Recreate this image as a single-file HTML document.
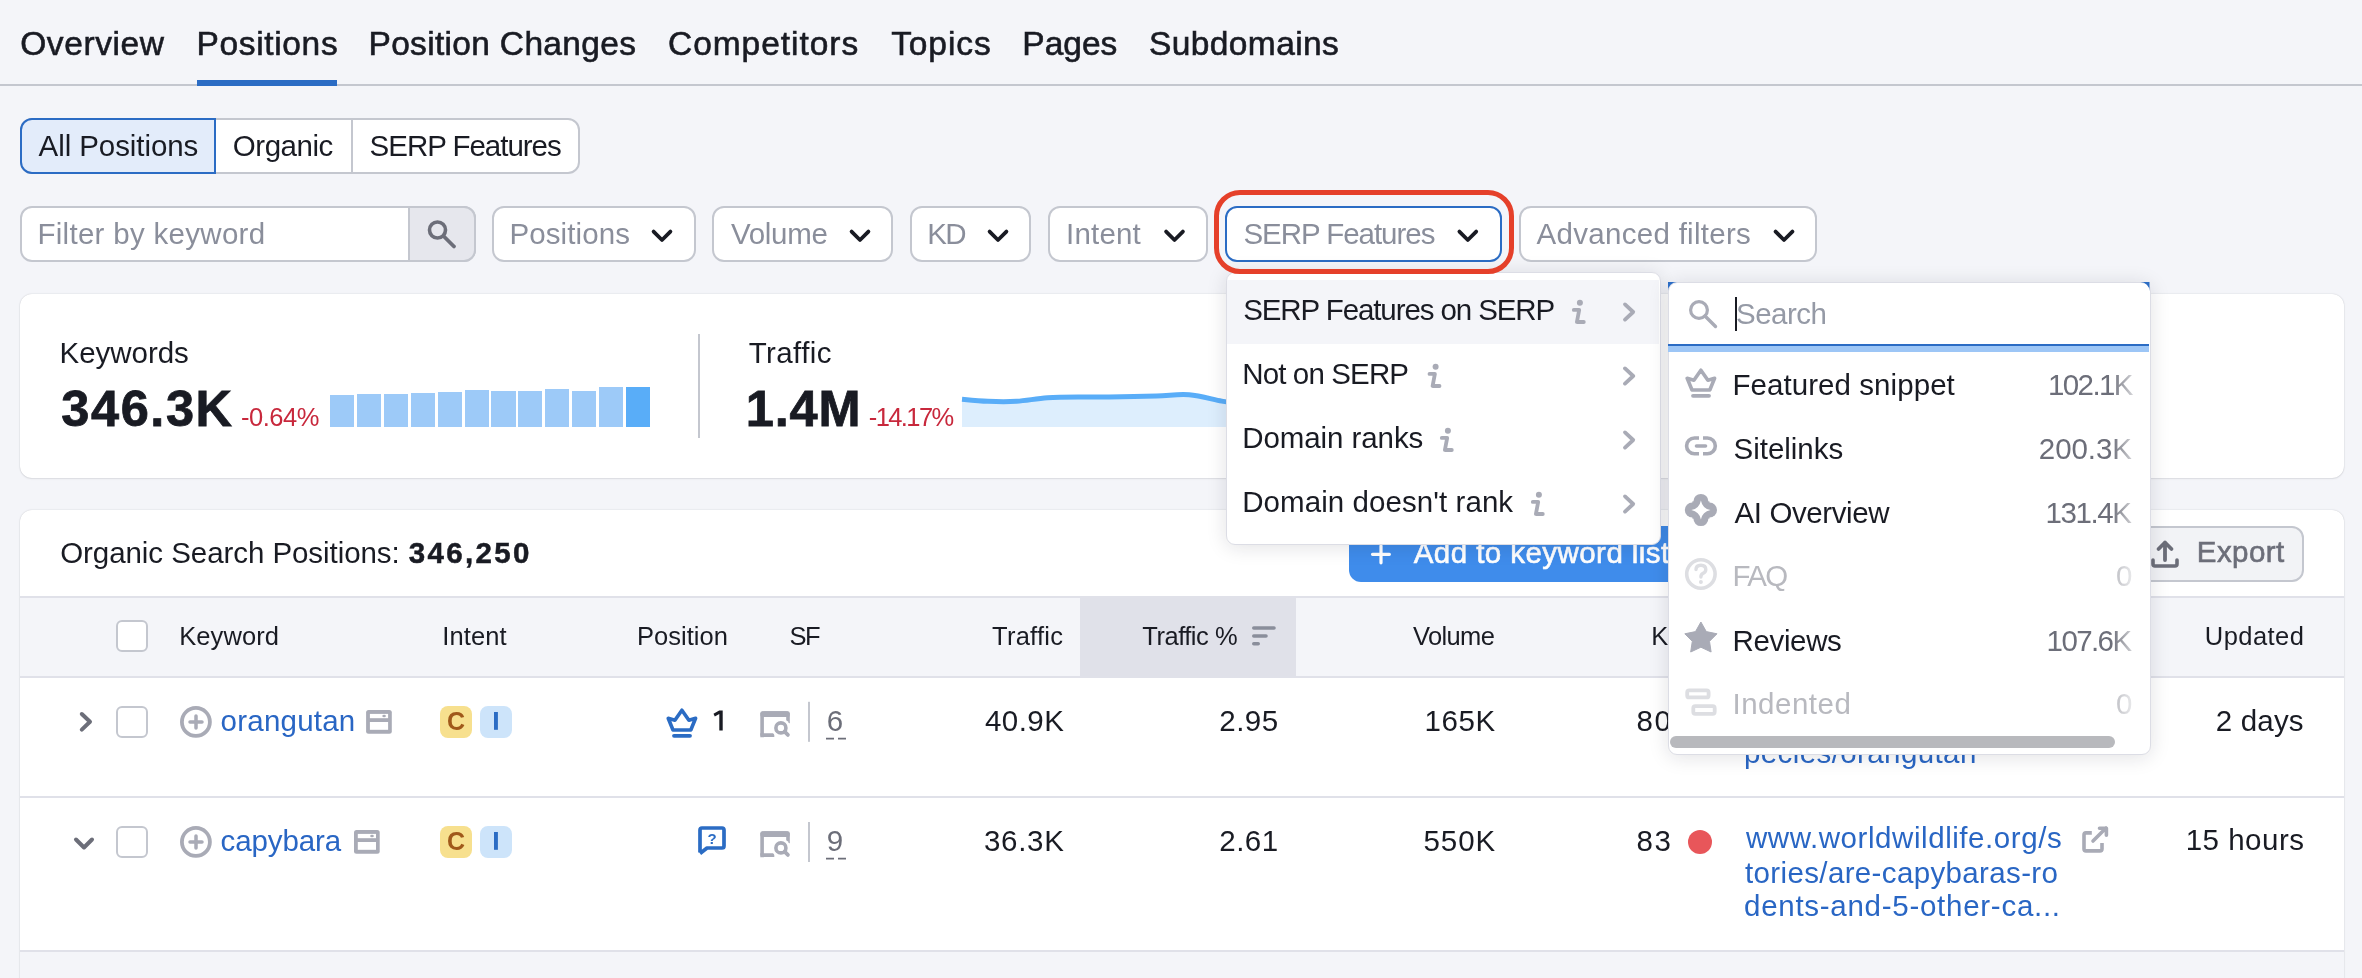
<!DOCTYPE html>
<html><head><meta charset="utf-8"><title>Positions</title>
<style>
html,body{margin:0;padding:0;}
body{width:2362px;height:978px;overflow:hidden;background:#F4F5F9;position:relative;font-family:"Liberation Sans",sans-serif;}
.t{position:absolute;white-space:pre;line-height:1;}
.b{position:absolute;}
.ov{position:absolute;left:0;top:0;}
#base{position:absolute;left:0;top:0;width:2362px;height:978px;z-index:1;will-change:transform;}
#pico{position:absolute;left:0;top:0;z-index:2;}
#dd{position:absolute;left:0;top:0;width:2362px;height:978px;z-index:5;will-change:transform;}
#ring{position:absolute;left:0;top:0;z-index:9;}
</style></head><body>
<div id="base">
<div class="b" style="left:0px;top:84px;width:2362px;height:2px;background:#C4C7CF;"></div>
<div class="b" style="left:197px;top:80px;width:140px;height:6px;background:#2B6CC4;"></div>
<div class="t" style="left:20.20px;top:27.00px;font-size:33.5px;color:#191B23;letter-spacing:0.586px;-webkit-text-stroke:0.6px #191B23;">Overview</div>
<div class="t" style="left:196.50px;top:27.00px;font-size:33.5px;color:#191B23;letter-spacing:0.650px;-webkit-text-stroke:0.6px #191B23;">Positions</div>
<div class="t" style="left:368.50px;top:27.00px;font-size:33.5px;color:#191B23;letter-spacing:0.320px;-webkit-text-stroke:0.6px #191B23;">Position Changes</div>
<div class="t" style="left:668.00px;top:27.00px;font-size:33.5px;color:#191B23;letter-spacing:0.960px;-webkit-text-stroke:0.6px #191B23;">Competitors</div>
<div class="t" style="left:891.20px;top:27.00px;font-size:33.5px;color:#191B23;letter-spacing:0.900px;-webkit-text-stroke:0.6px #191B23;">Topics</div>
<div class="t" style="left:1022.30px;top:27.00px;font-size:33.5px;color:#191B23;-webkit-text-stroke:0.6px #191B23;">Pages</div>
<div class="t" style="left:1148.90px;top:27.00px;font-size:33.5px;color:#191B23;letter-spacing:0.411px;-webkit-text-stroke:0.6px #191B23;">Subdomains</div>
<div class="b" style="left:20px;top:118px;width:560px;height:56px;background:#fff;border:2px solid #C4C7CF;border-radius:12px;box-sizing:border-box;"></div>
<div class="b" style="left:351px;top:120px;width:2px;height:52px;background:#C4C7CF;"></div>
<div class="b" style="left:20px;top:118px;width:196px;height:56px;background:#E3ECFA;border:2px solid #2B6CC4;border-radius:12px 0 0 12px;box-sizing:border-box;"></div>
<div class="t" style="left:38.60px;top:131.00px;font-size:29.5px;color:#191B23;letter-spacing:-0.083px;">All Positions</div>
<div class="t" style="left:232.80px;top:131.00px;font-size:29.5px;color:#191B23;letter-spacing:-0.467px;">Organic</div>
<div class="t" style="left:369.60px;top:131.00px;font-size:29.5px;color:#191B23;letter-spacing:-1.025px;">SERP Features</div>
<div class="b" style="left:20px;top:206px;width:456px;height:56px;background:#fff;border:2px solid #C4C7CF;border-radius:12px;box-sizing:border-box;"></div>
<div class="b" style="left:408px;top:206px;width:68px;height:56px;background:#E6E7ED;border:2px solid #C4C7CF;border-radius:0 12px 12px 0;box-sizing:border-box;"></div>
<div class="t" style="left:37.40px;top:219.00px;font-size:29.5px;color:#8A8E9B;letter-spacing:0.300px;">Filter by keyword</div>
<div class="b" style="left:492px;top:206px;width:204px;height:56px;background:#fff;border:2px solid #C4C7CF;border-radius:12px;box-sizing:border-box;"></div>
<div class="t" style="left:509.50px;top:218.50px;font-size:29.5px;color:#8A8E9B;letter-spacing:0.088px;">Positions</div>
<div class="b" style="left:712px;top:206px;width:181px;height:56px;background:#fff;border:2px solid #C4C7CF;border-radius:12px;box-sizing:border-box;"></div>
<div class="t" style="left:731.00px;top:218.50px;font-size:29.5px;color:#8A8E9B;letter-spacing:-0.300px;">Volume</div>
<div class="b" style="left:910px;top:206px;width:121px;height:56px;background:#fff;border:2px solid #C4C7CF;border-radius:12px;box-sizing:border-box;"></div>
<div class="t" style="left:927.30px;top:218.50px;font-size:29.5px;color:#8A8E9B;letter-spacing:-1.600px;">KD</div>
<div class="b" style="left:1048px;top:206px;width:160px;height:56px;background:#fff;border:2px solid #C4C7CF;border-radius:12px;box-sizing:border-box;"></div>
<div class="t" style="left:1066.00px;top:218.50px;font-size:29.5px;color:#8A8E9B;letter-spacing:0.200px;">Intent</div>
<div class="b" style="left:1225px;top:206px;width:277px;height:56px;background:#fff;border:2px solid #2B6CC4;border-radius:12px;box-sizing:border-box;"></div>
<div class="t" style="left:1243.40px;top:218.50px;font-size:29.5px;color:#8A8E9B;letter-spacing:-1.033px;">SERP Features</div>
<div class="b" style="left:1519px;top:206px;width:298px;height:56px;background:#fff;border:2px solid #C4C7CF;border-radius:12px;box-sizing:border-box;"></div>
<div class="t" style="left:1536.60px;top:218.50px;font-size:29.5px;color:#8A8E9B;letter-spacing:0.293px;">Advanced filters</div>
<div class="b" style="left:20px;top:294px;width:2324px;height:184px;background:#fff;border-radius:12px;box-shadow:0 0 1.5px rgba(25,27,35,0.22),0 1px 2px rgba(25,27,35,0.08);"></div>
<div class="t" style="left:59.50px;top:338.00px;font-size:29.5px;color:#191B23;letter-spacing:-0.029px;">Keywords</div>
<div class="t" style="left:61.30px;top:384.00px;font-size:50.5px;color:#191B23;letter-spacing:1.580px;font-weight:700;-webkit-text-stroke:0.8px #191B23;">346.3K</div>
<div class="t" style="left:240.90px;top:405.00px;font-size:25.5px;color:#C8283C;letter-spacing:-0.440px;">-0.64%</div>
<div class="b" style="left:330.2px;top:395.0px;width:23.7px;height:32.0px;background:#9DCAF8;"></div>
<div class="b" style="left:356.9px;top:393.9px;width:24.1px;height:33.1px;background:#9DCAF8;"></div>
<div class="b" style="left:384.0px;top:394.0px;width:23.7px;height:33.0px;background:#9DCAF8;"></div>
<div class="b" style="left:411.0px;top:392.9px;width:24.0px;height:34.1px;background:#9DCAF8;"></div>
<div class="b" style="left:437.7px;top:391.5px;width:24.0px;height:35.5px;background:#9DCAF8;"></div>
<div class="b" style="left:464.8px;top:390.2px;width:23.9px;height:36.8px;background:#9DCAF8;"></div>
<div class="b" style="left:491.4px;top:391.0px;width:24.2px;height:36.0px;background:#9DCAF8;"></div>
<div class="b" style="left:518.3px;top:390.5px;width:24.1px;height:36.5px;background:#9DCAF8;"></div>
<div class="b" style="left:545.2px;top:388.8px;width:24.0px;height:38.2px;background:#9DCAF8;"></div>
<div class="b" style="left:572.2px;top:390.5px;width:24.0px;height:36.5px;background:#9DCAF8;"></div>
<div class="b" style="left:599.0px;top:387.0px;width:24.0px;height:40.0px;background:#9DCAF8;"></div>
<div class="b" style="left:625.8px;top:387.1px;width:24.0px;height:39.9px;background:#59ADF8;"></div>
<div class="b" style="left:698px;top:334px;width:2px;height:104px;background:#C4C7CF;"></div>
<div class="t" style="left:748.70px;top:338.00px;font-size:29.5px;color:#191B23;letter-spacing:0.417px;">Traffic</div>
<div class="t" style="left:745.70px;top:384.00px;font-size:50.5px;color:#191B23;letter-spacing:0.867px;font-weight:700;-webkit-text-stroke:0.8px #191B23;">1.4M</div>
<div class="t" style="left:868.80px;top:405.00px;font-size:25.5px;color:#C8283C;letter-spacing:-1.600px;">-14.17%</div>
<div class="b" style="left:20px;top:510px;width:2324px;height:490px;background:#fff;border-radius:12px 12px 0 0;box-shadow:0 0 1.5px rgba(25,27,35,0.22),0 1px 2px rgba(25,27,35,0.08);"></div>
<div class="t" style="left:60.20px;top:538.00px;font-size:29.5px;color:#191B23;letter-spacing:-0.062px;">Organic Search Positions:</div>
<div class="t" style="left:408.70px;top:538.00px;font-size:29.5px;color:#191B23;letter-spacing:2.350px;font-weight:700;-webkit-text-stroke:0.5px #191B23;">346,250</div>
<div class="b" style="left:1349px;top:526px;width:351px;height:56px;background:#3F8CEB;border-radius:12px;"></div>
<div class="t" style="left:1413.70px;top:538.00px;font-size:29.5px;color:#fff;letter-spacing:0.444px;-webkit-text-stroke:0.6px #fff;">Add to keyword list</div>
<div class="b" style="left:2120px;top:526px;width:184px;height:56px;background:#F2F3F6;border:2px solid #C4C7CF;border-radius:12px;box-sizing:border-box;"></div>
<div class="t" style="left:2196.80px;top:537.40px;font-size:29.5px;color:#6C6E79;letter-spacing:0.440px;-webkit-text-stroke:0.6px #6C6E79;">Export</div>
<div class="b" style="left:20px;top:596px;width:2324px;height:82px;background:#F4F5F9;border-top:2px solid #E0E1E9;border-bottom:2px solid #E0E1E9;box-sizing:border-box;"></div>
<div class="b" style="left:1080px;top:598px;width:216px;height:78px;background:#E0E1E9;"></div>
<div class="t" style="left:179.20px;top:624.00px;font-size:25.5px;color:#191B23;letter-spacing:0.100px;">Keyword</div>
<div class="t" style="left:442.30px;top:624.00px;font-size:25.5px;color:#191B23;letter-spacing:0.100px;">Intent</div>
<div class="t" style="left:636.90px;top:624.00px;font-size:25.5px;color:#191B23;letter-spacing:0.057px;">Position</div>
<div class="t" style="left:789.50px;top:624.00px;font-size:25.5px;color:#191B23;letter-spacing:-1.600px;">SF</div>
<div class="t" style="left:992.00px;top:624.00px;font-size:25.5px;color:#191B23;letter-spacing:0.267px;">Traffic</div>
<div class="t" style="left:1142.30px;top:624.00px;font-size:25.5px;color:#191B23;letter-spacing:-0.487px;">Traffic %</div>
<div class="t" style="left:1413.00px;top:624.00px;font-size:25.5px;color:#191B23;letter-spacing:-0.640px;">Volume</div>
<div class="t" style="left:1651.20px;top:624.00px;font-size:25.5px;color:#191B23;letter-spacing:3.800px;">KD</div>
<div class="t" style="left:2204.80px;top:624.00px;font-size:25.5px;color:#191B23;letter-spacing:0.450px;">Updated</div>
<div class="b" style="left:20px;top:796px;width:2324px;height:2px;background:#E0E1E9;"></div>
<div class="b" style="left:20px;top:950px;width:2324px;height:2px;background:#E0E1E9;"></div>
<div class="b" style="left:20px;top:952px;width:2324px;height:26px;background:#F4F5F9;"></div>
<div class="t" style="left:220.60px;top:706.00px;font-size:29.5px;color:#2966C4;letter-spacing:0.225px;">orangutan</div>
<div class="t" style="left:220.60px;top:825.50px;font-size:29.5px;color:#2966C4;letter-spacing:-0.129px;">capybara</div>
<div class="t" style="left:826.70px;top:706.00px;font-size:29.5px;color:#6C6E79;">6</div>
<div class="t" style="left:826.70px;top:825.50px;font-size:29.5px;color:#6C6E79;">9</div>
<div class="t" style="left:984.90px;top:706.00px;font-size:29.5px;color:#191B23;letter-spacing:0.475px;">40.9K</div>
<div class="t" style="left:1219.30px;top:706.00px;font-size:29.5px;color:#191B23;letter-spacing:0.467px;">2.95</div>
<div class="t" style="left:1424.60px;top:706.00px;font-size:29.5px;color:#191B23;letter-spacing:0.567px;">165K</div>
<div class="t" style="left:1636.60px;top:706.00px;font-size:29.5px;color:#191B23;letter-spacing:1.600px;">80</div>
<div class="t" style="left:983.90px;top:825.50px;font-size:29.5px;color:#191B23;letter-spacing:0.725px;">36.3K</div>
<div class="t" style="left:1219.30px;top:825.50px;font-size:29.5px;color:#191B23;letter-spacing:0.467px;">2.61</div>
<div class="t" style="left:1423.50px;top:825.50px;font-size:29.5px;color:#191B23;letter-spacing:0.933px;">550K</div>
<div class="t" style="left:1636.60px;top:825.50px;font-size:29.5px;color:#191B23;letter-spacing:1.600px;">83</div>
<div class="t" style="left:2215.80px;top:705.50px;font-size:29.5px;color:#191B23;letter-spacing:0.180px;">2 days</div>
<div class="t" style="left:2185.70px;top:825.00px;font-size:29.5px;color:#191B23;letter-spacing:0.500px;">15 hours</div>
<div class="t" style="left:1746.00px;top:703.00px;font-size:29.5px;color:#2966C4;letter-spacing:0.564px;">www.worldwildlife.org/s</div>
<div class="t" style="left:1744.00px;top:737.50px;font-size:29.5px;color:#2966C4;letter-spacing:0.400px;">pecies/orangutan</div>
<div class="t" style="left:1746.00px;top:823.40px;font-size:29.5px;color:#2966C4;letter-spacing:0.564px;">www.worldwildlife.org/s</div>
<div class="t" style="left:1745.00px;top:857.60px;font-size:29.5px;color:#2966C4;letter-spacing:0.364px;">tories/are-capybaras-ro</div>
<div class="t" style="left:1744.00px;top:891.20px;font-size:29.5px;color:#2966C4;letter-spacing:0.727px;">dents-and-5-other-ca...</div>
<div class="b" style="left:440px;top:706px;width:32px;height:32px;background:#F7E08E;border-radius:8px;"></div>
<div class="b" style="left:480px;top:706px;width:32px;height:32px;background:#CDE4FA;border-radius:8px;"></div>
<div class="b" style="left:440px;top:826px;width:32px;height:32px;background:#F7E08E;border-radius:8px;"></div>
<div class="b" style="left:480px;top:826px;width:32px;height:32px;background:#CDE4FA;border-radius:8px;"></div>
<div class="b" style="left:116px;top:620px;width:32px;height:32px;background:#fff;border:2px solid #C4C7CF;border-radius:6px;box-sizing:border-box;"></div>
<div class="b" style="left:116px;top:706px;width:32px;height:32px;background:#fff;border:2px solid #C4C7CF;border-radius:6px;box-sizing:border-box;"></div>
<div class="b" style="left:116px;top:826px;width:32px;height:32px;background:#fff;border:2px solid #C4C7CF;border-radius:6px;box-sizing:border-box;"></div>
<div class="b" style="left:1688px;top:830px;width:24px;height:24px;border-radius:50%;background:#E8565A;"></div>
</div>
<div id="pico"><svg class="ov" width="2362" height="978" viewBox="0 0 2362 978"><circle cx="437.5" cy="230" r="8" fill="none" stroke="#6C6E79" stroke-width="3.6"/><path d="M443.5 236L454 246.5" stroke="#6C6E79" stroke-width="3.8" stroke-linecap="round"/><path d="M653.6 231.6L662.0 240L670.4 231.6" fill="none" stroke="#191B23" stroke-width="3.8" stroke-linecap="round" stroke-linejoin="round"/><path d="M851.6 231.6L860.0 240L868.4 231.6" fill="none" stroke="#191B23" stroke-width="3.8" stroke-linecap="round" stroke-linejoin="round"/><path d="M989.6 231.6L998.0 240L1006.4 231.6" fill="none" stroke="#191B23" stroke-width="3.8" stroke-linecap="round" stroke-linejoin="round"/><path d="M1166.1 231.6L1174.5 240L1182.9 231.6" fill="none" stroke="#191B23" stroke-width="3.8" stroke-linecap="round" stroke-linejoin="round"/><path d="M1459.4 231.6L1467.8 240L1476.2 231.6" fill="none" stroke="#191B23" stroke-width="3.8" stroke-linecap="round" stroke-linejoin="round"/><path d="M1775.6 231.6L1784.0 240L1792.4 231.6" fill="none" stroke="#191B23" stroke-width="3.8" stroke-linecap="round" stroke-linejoin="round"/><path d="M1253.8 628H1274M1253.8 636H1266M1253.8 643.7H1258.2" stroke="#8A8E9B" stroke-width="3.6" stroke-linecap="round"/><path d="M81.8 714L90 721.8L81.8 729.6" fill="none" stroke="#6C6E79" stroke-width="4" stroke-linecap="round" stroke-linejoin="round"/><path d="M76 839.5L84 847.5L92 839.5" fill="none" stroke="#6C6E79" stroke-width="4" stroke-linecap="round" stroke-linejoin="round"/><circle cx="195.9" cy="721.9" r="14" fill="none" stroke="#A9ABB6" stroke-width="3.8"/><path d="M190 721.9H202M196 715.9V727.9" stroke="#A9ABB6" stroke-width="3.5" stroke-linecap="round"/><g transform="translate(760.3 711.3)"><path d="M1.8 26V4Q1.8 1.8 4 1.8H25.6Q27.7 1.8 27.7 4V12" fill="none" stroke="#A9ABB6" stroke-width="3.6"/><rect x="0" y="0" width="29.5" height="5.8" rx="2" fill="#A9ABB6"/><path d="M1.8 22V23.6Q1.8 23.8 4 23.8H14" fill="none" stroke="#A9ABB6" stroke-width="3.6"/><circle cx="20.6" cy="16.6" r="9.5" fill="#fff"/><circle cx="20.6" cy="16.6" r="5" fill="none" stroke="#A9ABB6" stroke-width="3.6"/><path d="M24.3 20.3L27.6 23.6" stroke="#A9ABB6" stroke-width="3.8" stroke-linecap="round"/></g><rect x="808" y="701.8" width="2" height="40" fill="#C4C7CF"/><path d="M826 738.6H834M838 738.6H846" stroke="#6C6E79" stroke-width="1.6"/><circle cx="195.9" cy="841.9" r="14" fill="none" stroke="#A9ABB6" stroke-width="3.8"/><path d="M190 841.9H202M196 835.9V847.9" stroke="#A9ABB6" stroke-width="3.5" stroke-linecap="round"/><g transform="translate(760.3 831.3)"><path d="M1.8 26V4Q1.8 1.8 4 1.8H25.6Q27.7 1.8 27.7 4V12" fill="none" stroke="#A9ABB6" stroke-width="3.6"/><rect x="0" y="0" width="29.5" height="5.8" rx="2" fill="#A9ABB6"/><path d="M1.8 22V23.6Q1.8 23.8 4 23.8H14" fill="none" stroke="#A9ABB6" stroke-width="3.6"/><circle cx="20.6" cy="16.6" r="9.5" fill="#fff"/><circle cx="20.6" cy="16.6" r="5" fill="none" stroke="#A9ABB6" stroke-width="3.6"/><path d="M24.3 20.3L27.6 23.6" stroke="#A9ABB6" stroke-width="3.8" stroke-linecap="round"/></g><rect x="808" y="822.0" width="2" height="40" fill="#C4C7CF"/><path d="M826 858.6H834M838 858.6H846" stroke="#6C6E79" stroke-width="1.6"/><g transform="translate(366.1 710)"><rect x="0" y="0" width="25.7" height="23.7" rx="2.5" fill="#A9ABB6"/><rect x="3.8" y="3.9" width="18.2" height="4.3" fill="#fff"/><rect x="3.8" y="12" width="18.2" height="7.8" fill="#fff"/><ellipse cx="18" cy="6" rx="1.8" ry="1.3" fill="#A9ABB6"/></g><g transform="translate(354 830)"><rect x="0" y="0" width="25.7" height="23.7" rx="2.5" fill="#A9ABB6"/><rect x="3.8" y="3.9" width="18.2" height="4.3" fill="#fff"/><rect x="3.8" y="12" width="18.2" height="7.8" fill="#fff"/><ellipse cx="18" cy="6" rx="1.8" ry="1.3" fill="#A9ABB6"/></g><text x="456" y="730.1" text-anchor="middle" font-family="Liberation Sans" font-weight="700" font-size="25" fill="#A0591A">C</text><rect x="494" y="712" width="3.9" height="17.8" fill="#2B6CC4"/><text x="456" y="850.1" text-anchor="middle" font-family="Liberation Sans" font-weight="700" font-size="25" fill="#A0591A">C</text><rect x="494" y="832" width="3.9" height="17.8" fill="#2B6CC4"/><g transform="translate(666 708)"><path d="M2.2 10.3L8.9 12.2L15.9 2.2L22.9 12.2L29.6 10.3L24.8 22H7Z" fill="none" stroke="#2B6CC4" stroke-width="3.6" stroke-linejoin="round"/><path d="M8 27.8H24" stroke="#2B6CC4" stroke-width="3.8" stroke-linecap="round"/></g><path d="M719.2 710.5H722.7V730.6H719.3V714L714.8 716.6L713.5 713.8Z" fill="#191B23"/><path d="M700 852.5V830Q700 828 702 828H722Q724 828 724 830V846Q724 848 722 848H707L700 853.5" fill="none" stroke="#2B6CC4" stroke-width="3.7" stroke-linejoin="round"/><text x="712" y="844" text-anchor="middle" font-family="Liberation Sans" font-weight="700" font-size="15" fill="#2B6CC4">?</text><path d="M2091.8 832.9H2086Q2084 832.9 2084 835V849Q2084 850.9 2086 850.9H2100Q2102 850.9 2102 849V843" fill="none" stroke="#A9ABB6" stroke-width="3.6"/><path d="M2093 841L2106 828M2099.5 828.3H2106.4V835.3" fill="none" stroke="#A9ABB6" stroke-width="3.6" stroke-linecap="round" stroke-linejoin="round"/><path d="M2153 560V564Q2153 566 2155 566H2175Q2177 566 2177 564V560" fill="none" stroke="#6C6E79" stroke-width="3.6" stroke-linecap="round"/><path d="M2165 560V542.5M2158.5 549L2165 542.5L2171.5 549" fill="none" stroke="#6C6E79" stroke-width="3.8" stroke-linecap="round" stroke-linejoin="round"/><path d="M1372.5 554.3H1389.4M1381 545.8V562.8" stroke="#fff" stroke-width="3.2" stroke-linecap="round"/><path d="M962 399.2C966.3 399.6 978.9 400.9 988 401.3C997.1 401.7 1006.7 401.9 1016.6 401.3C1026.5 400.7 1036.4 398.5 1047.5 397.8C1058.6 397.1 1072.8 397.1 1083 397C1093.2 396.9 1096.8 397.2 1109 397C1121.2 396.8 1143.2 396.4 1156.5 396C1169.8 395.6 1178.2 393.9 1189.1 394.8C1200.0 395.7 1213.2 399.6 1221.7 401.1C1230.2 402.6 1237.0 403.5 1240 404 L1240 427 L962 427Z" fill="#DDEEFD"/><path d="M962 399.2C966.3 399.6 978.9 400.9 988 401.3C997.1 401.7 1006.7 401.9 1016.6 401.3C1026.5 400.7 1036.4 398.5 1047.5 397.8C1058.6 397.1 1072.8 397.1 1083 397C1093.2 396.9 1096.8 397.2 1109 397C1121.2 396.8 1143.2 396.4 1156.5 396C1169.8 395.6 1178.2 393.9 1189.1 394.8C1200.0 395.7 1213.2 399.6 1221.7 401.1C1230.2 402.6 1237.0 403.5 1240 404" fill="none" stroke="#59ADF8" stroke-width="5"/></svg></div>
<div id="dd">
<div class="b" style="left:1225.5px;top:271.5px;width:435.0px;height:273.5px;background:#fff;border:1.5px solid #DCDDE5;border-radius:9px;box-sizing:border-box;box-shadow:0 2px 20px rgba(25,27,35,0.13);"></div>
<div class="b" style="left:1227px;top:280px;width:432px;height:64px;background:#F4F5F9;"></div>
<div class="t" style="left:1243.20px;top:295.00px;font-size:29.5px;color:#191B23;letter-spacing:-1.095px;">SERP Features on SERP</div>
<div class="t" style="left:1242.20px;top:359.00px;font-size:29.5px;color:#191B23;letter-spacing:-0.860px;">Not on SERP</div>
<div class="t" style="left:1242.20px;top:423.00px;font-size:29.5px;color:#191B23;letter-spacing:-0.073px;">Domain ranks</div>
<div class="t" style="left:1242.20px;top:487.00px;font-size:29.5px;color:#191B23;letter-spacing:0.072px;">Domain doesn't rank</div>
<div class="b" style="left:1667.5px;top:281.5px;width:483.0px;height:473.0px;background:#fff;border:1.5px solid #DCDDE5;border-radius:9px;box-sizing:border-box;box-shadow:0 2px 20px rgba(25,27,35,0.13);"></div>
<div class="b" style="left:1668px;top:344px;width:481px;height:2px;background:#2B6CC4;"></div>
<div class="b" style="left:1668px;top:346px;width:481px;height:6px;background:#9DC6F6;"></div>
<div class="b" style="left:1734.8px;top:297.3px;width:2.0px;height:33.30000000000001px;background:#191B23;"></div>
<div class="t" style="left:1736.00px;top:299.00px;font-size:29.5px;color:#959AA6;letter-spacing:-0.500px;">Search</div>
<div class="t" style="left:1732.50px;top:370.00px;font-size:29.5px;color:#191B23;letter-spacing:0.060px;">Featured snippet</div>
<div class="t" style="left:2048.00px;top:370.00px;font-size:29.5px;color:#6C6E79;letter-spacing:-1.600px;">102.1K</div>
<div class="t" style="left:1733.50px;top:434.00px;font-size:29.5px;color:#191B23;letter-spacing:-0.012px;">Sitelinks</div>
<div class="t" style="left:2038.80px;top:434.00px;font-size:29.5px;color:#6C6E79;letter-spacing:-0.060px;">200.3K</div>
<div class="t" style="left:1734.50px;top:497.50px;font-size:29.5px;color:#191B23;letter-spacing:-0.390px;">AI Overview</div>
<div class="t" style="left:2045.60px;top:497.50px;font-size:29.5px;color:#6C6E79;letter-spacing:-1.420px;">131.4K</div>
<div class="t" style="left:1732.50px;top:561.30px;font-size:29.5px;color:#B8B9BF;letter-spacing:-1.600px;">FAQ</div>
<div class="t" style="left:2116.00px;top:561.30px;font-size:29.5px;color:#B8B9BF;">0</div>
<div class="t" style="left:1732.50px;top:626.00px;font-size:29.5px;color:#191B23;letter-spacing:-0.350px;">Reviews</div>
<div class="t" style="left:2046.60px;top:626.00px;font-size:29.5px;color:#6C6E79;letter-spacing:-1.600px;">107.6K</div>
<div class="t" style="left:1732.50px;top:689.30px;font-size:29.5px;color:#B8B9BF;letter-spacing:0.500px;">Indented</div>
<div class="t" style="left:2116.00px;top:689.30px;font-size:29.5px;color:#B8B9BF;">0</div>
<div class="b" style="left:2112px;top:352px;width:25px;height:383px;background:linear-gradient(90deg,rgba(255,255,255,0),rgba(255,255,255,0.85));"></div>
<div class="b" style="left:1669.5px;top:736px;width:445.0px;height:12px;background:#B8B9BD;border-radius:6px;"></div>
<svg class="ov" style="z-index:6" width="2362" height="978" viewBox="0 0 2362 978"><circle cx="1579.8999999999999" cy="302.8" r="3" fill="#A9ABB6"/><path d="M1573.8 309.9H1579.2L1576.8999999999999 322H1583.8" fill="none" stroke="#A9ABB6" stroke-width="3.8" stroke-linecap="round" stroke-linejoin="round"/><path d="M1625 304.4L1633.2 312L1625 319.6" fill="none" stroke="#A9ABB6" stroke-width="3.8" stroke-linecap="round" stroke-linejoin="round"/><circle cx="1435.6" cy="366.8" r="3" fill="#A9ABB6"/><path d="M1429.5 373.9H1434.9L1432.6 386H1439.5" fill="none" stroke="#A9ABB6" stroke-width="3.8" stroke-linecap="round" stroke-linejoin="round"/><path d="M1625 368.4L1633.2 376L1625 383.6" fill="none" stroke="#A9ABB6" stroke-width="3.8" stroke-linecap="round" stroke-linejoin="round"/><circle cx="1447.8999999999999" cy="430.8" r="3" fill="#A9ABB6"/><path d="M1441.8 437.9H1447.2L1444.8999999999999 450H1451.8" fill="none" stroke="#A9ABB6" stroke-width="3.8" stroke-linecap="round" stroke-linejoin="round"/><path d="M1625 432.4L1633.2 440L1625 447.6" fill="none" stroke="#A9ABB6" stroke-width="3.8" stroke-linecap="round" stroke-linejoin="round"/><circle cx="1538.8999999999999" cy="494.8" r="3" fill="#A9ABB6"/><path d="M1532.8 501.9H1538.2L1535.8999999999999 514H1542.8" fill="none" stroke="#A9ABB6" stroke-width="3.8" stroke-linecap="round" stroke-linejoin="round"/><path d="M1625 496.4L1633.2 504L1625 511.6" fill="none" stroke="#A9ABB6" stroke-width="3.8" stroke-linecap="round" stroke-linejoin="round"/><circle cx="1699" cy="310" r="8.4" fill="none" stroke="#A9ABB6" stroke-width="3.2"/><path d="M1705 316L1715.5 326.5" stroke="#A9ABB6" stroke-width="3.4" stroke-linecap="round"/><g transform="translate(1685 368)"><path d="M2.2 10.3L8.9 12.2L15.9 2.2L22.9 12.2L29.6 10.3L24.8 22H7Z" fill="none" stroke="#A9ABB6" stroke-width="3.6" stroke-linejoin="round"/><path d="M8 27.8H24" stroke="#A9ABB6" stroke-width="3.8" stroke-linecap="round"/></g><path d="M1668 282H1677A9 9 0 0 0 1668 291Z" fill="#2B6CC4"/><path d="M2149.5 282H2140.5A9 9 0 0 1 2149.5 291Z" fill="#2B6CC4"/><path d="M1699 438H1694.5A7.8 7.8 0 0 0 1694.5 453.8H1699M1703 438H1707.4A7.8 7.8 0 0 1 1707.4 453.8H1703" fill="none" stroke="#A9ABB6" stroke-width="3.6"/><path d="M1696.5 446H1705.5" stroke="#A9ABB6" stroke-width="3.6" stroke-linecap="round"/><g fill="#A9ABB6"><circle cx="1700.9" cy="501.4" r="7.5"/><circle cx="1700.9" cy="518.6" r="7.5"/><circle cx="1692.3000000000002" cy="510" r="7.5"/><circle cx="1709.5" cy="510" r="7.5"/><rect x="1692.3000000000002" y="501.4" width="17.2" height="17.2"/></g><path d="M1700.9 500.4Q1702.4 508.5 1710.5 510Q1702.4 511.5 1700.9 519.6Q1699.4 511.5 1691.3000000000002 510Q1699.4 508.5 1700.9 500.4Z" fill="#fff"/><circle cx="1700.9" cy="574" r="14.2" fill="none" stroke="#DDDEE2" stroke-width="3.6"/><path d="M1696 569.5Q1696 565.2 1700.9 565.2Q1705.8 565.2 1705.8 569.5Q1705.8 572 1702.8 573.6Q1700.9 574.6 1700.9 577" fill="none" stroke="#DDDEE2" stroke-width="3.4" stroke-linecap="round"/><circle cx="1700.9" cy="582" r="2" fill="#DDDEE2"/><path d="M1700.9 622L1706.3 631.6L1717 633.8L1709.5 641.3L1711.1 652L1700.9 647.2L1690.7 652L1692.3 641.3L1684.8 633.8L1695.5 631.6Z" fill="#A9ABB6" stroke="#A9ABB6" stroke-width="1" stroke-linejoin="round"/><rect x="1687.2" y="690.4" width="21.4" height="7" rx="2" fill="none" stroke="#DDDEE2" stroke-width="3.8"/><rect x="1693.3" y="706.2" width="21.4" height="7.6" rx="2" fill="none" stroke="#DDDEE2" stroke-width="3.8"/></svg>
</div>
<div id="ring"><div class="b" style="left:1214px;top:190px;width:300px;height:84px;border:5px solid #E5402A;border-radius:26px;box-sizing:border-box;"></div></div>
</body></html>
